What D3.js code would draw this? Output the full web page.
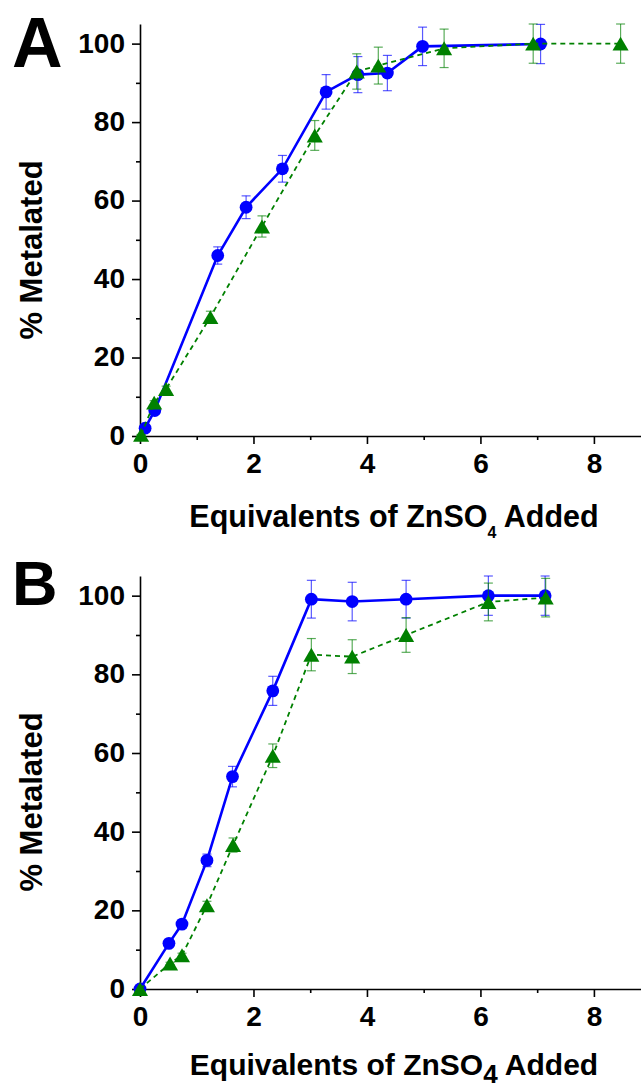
<!DOCTYPE html>
<html>
<head>
<meta charset="utf-8">
<script src="https://cdn.jsdelivr.net/npm/d3@7"></script>
<style>
  body { margin: 0; background: #fff; }
  svg text { font-family: "Liberation Sans", Arial, sans-serif; font-weight: bold; fill: #000; }
</style>
</head>
<body>
<svg id="chart" width="641" height="1089"></svg>
<script>
// Panel A data
var aBlueX = [0.09, 0.26, 1.37, 1.87, 2.51, 3.28, 3.84, 4.36, 4.98, 7.06];
var aBlueY = [2.0, 6.5, 46.0, 58.3, 68.1, 87.7, 92.1, 92.5, 99.3, 99.9];
var aBlueErr = [0.5, 1.0, 2.2, 2.9, 3.4, 4.4, 4.6, 4.5, 4.9, 5.0];

var aGreenX = [0.02, 0.25, 0.46, 1.24, 2.15, 3.08, 3.82, 4.20, 5.36, 6.93, 8.47];
var aGreenY = [0.3, 8.5, 12.0, 30.3, 53.4, 76.6, 92.9, 94.4, 98.8, 100, 100];
var aGreenErr = [0.1, 0.5, 0.7, 1.5, 2.7, 3.8, 4.5, 4.7, 4.9, 5.0, 5.0];

// Panel B data
var bBlueX = [0.0, 0.51, 0.74, 1.18, 1.63, 2.34, 3.02, 3.74, 4.69, 6.14, 7.14];
var bBlueY = [0.0, 11.6, 16.5, 32.7, 54.0, 75.8, 99.1, 98.5, 99.1, 100, 100];
var bBlueErr = [0, 0.6, 0.8, 1.6, 2.6, 3.7, 4.8, 4.9, 4.8, 5.0, 5.0];

var bGreenX = [0.0, 0.53, 0.74, 1.18, 1.64, 2.34, 3.02, 3.74, 4.69, 6.14, 7.15];
var bGreenY = [0.0, 6.5, 8.6, 21.3, 36.6, 59.3, 85.0, 84.5, 90.0, 98.4, 99.5];
var bGreenErr = [0, 0.3, 0.5, 1.0, 1.8, 3.0, 4.1, 4.3, 4.4, 4.8, 4.9];

// Tick values
var xTicks = [0, 2, 4, 6, 8];
var xMinor = [1, 3, 5, 7];
var yTicks = [0, 20, 40, 60, 80, 100];
var yMinor = [10, 30, 50, 70, 90];

var svg = d3.select("#chart");

// triangle centred on its bounding box
var triangle = {
  draw: function(ctx, size) {
    var s = Math.sqrt(size * 4 / Math.sqrt(3));
    var h = s * Math.sqrt(3) / 2;
    ctx.moveTo(0, -h / 2);
    ctx.lineTo(s / 2, h / 2);
    ctx.lineTo(-s / 2, h / 2);
    ctx.closePath();
  }
};

function zip(xs, ys, es) {
  return xs.map(function(x, i) { return { x: x, y: ys[i], e: es[i] }; });
}

function drawPanel(p) {
  var x = d3.scaleLinear().domain([0, 8.83]).range([140, 641]);
  var y = d3.scaleLinear().domain([0, 105]).range([p.bottom, p.top]);

  var g = svg.append("g");

  // axes
  var yAxis = g.append("g")
    .attr("transform", "translate(140,0)")
    .call(d3.axisLeft(y).tickValues(yTicks).tickSize(8).tickSizeOuter(0).tickPadding(7));
  g.append("g")
    .attr("transform", "translate(140,0)")
    .call(d3.axisLeft(y).tickValues(yMinor).tickSize(4).tickFormat(""))
    .select(".domain").remove();

  g.append("g")
    .attr("transform", "translate(0," + p.bottom + ")")
    .call(d3.axisBottom(x).tickValues(xTicks).tickSize(8).tickSizeOuter(0).tickPadding(9));
  g.append("g")
    .attr("transform", "translate(0," + p.bottom + ")")
    .call(d3.axisBottom(x).tickValues(xMinor).tickSize(4).tickFormat(""))
    .select(".domain").remove();

  g.selectAll(".domain, .tick line").attr("stroke", "#000").attr("stroke-width", 1.6);
  g.selectAll(".tick text")
    .style("font-size", "28px")
    .style("font-family", "'Liberation Sans', Arial, sans-serif")
    .style("font-weight", "bold");
  yAxis.selectAll(".tick text").attr("dy", "0.3em");

  function series(data, color, dashed, marker) {
    var s = g.append("g");
    // error bars
    var eb = s.selectAll(".eb").data(data.filter(function(d) { return d.e > 0; }))
      .enter().append("g")
      .attr("stroke", color).attr("stroke-opacity", 0.65).attr("stroke-width", 1.2);
    eb.append("line")
      .attr("x1", function(d) { return x(d.x); }).attr("x2", function(d) { return x(d.x); })
      .attr("y1", function(d) { return y(d.y - d.e); }).attr("y2", function(d) { return y(d.y + d.e); });
    eb.append("line")
      .attr("x1", function(d) { return x(d.x) - 4.5; }).attr("x2", function(d) { return x(d.x) + 4.5; })
      .attr("y1", function(d) { return y(d.y + d.e); }).attr("y2", function(d) { return y(d.y + d.e); });
    eb.append("line")
      .attr("x1", function(d) { return x(d.x) - 4.5; }).attr("x2", function(d) { return x(d.x) + 4.5; })
      .attr("y1", function(d) { return y(d.y - d.e); }).attr("y2", function(d) { return y(d.y - d.e); });

    var line = d3.line().x(function(d) { return x(d.x); }).y(function(d) { return y(d.y); });
    s.append("path")
      .attr("d", line(data))
      .attr("fill", "none")
      .attr("stroke", color)
      .attr("stroke-width", dashed ? 1.8 : 2.6)
      .attr("stroke-dasharray", dashed ? "5,4" : null);

    if (marker === "circle") {
      s.selectAll(".pt").data(data).enter().append("circle")
        .attr("cx", function(d) { return x(d.x); })
        .attr("cy", function(d) { return y(d.y); })
        .attr("r", 6.4)
        .attr("fill", color);
    } else {
      var sym = d3.symbol().type(triangle).size(112);
      s.selectAll(".pt").data(data).enter().append("path")
        .attr("d", sym)
        .attr("transform", function(d) { return "translate(" + x(d.x) + "," + y(d.y) + ")"; })
        .attr("fill", color);
    }
  }

  series(zip(p.blueX, p.blueY, p.blueErr), "#0000ff", false, "circle");
  series(zip(p.greenX, p.greenY, p.greenErr), "#008000", true, "triangle");

  // panel letter
  g.append("text")
    .attr("x", p.letterX).attr("y", p.letterY)
    .style("font-size", p.letterSize + "px")
    .text(p.letter);

  // y title
  g.append("text")
    .attr("transform", "translate(42," + p.yTitleY + ") rotate(-90)")
    .attr("text-anchor", "middle")
    .style("font-size", "31px")
    .text("% Metalated");

  // x title with subscript
  var t = g.append("text")
    .attr("x", 394).attr("y", p.xTitleY)
    .attr("text-anchor", "middle")
    .style("font-size", p.xTitleSize + "px");
  t.append("tspan").text("Equivalents of ZnSO");
  t.append("tspan").attr("dy", p.subDy).style("font-size", p.subSize + "px").text("4");
  t.append("tspan").attr("dy", -p.subDy).text(" Added");
}

drawPanel({
  top: 24, bottom: 436,
  blueX: aBlueX, blueY: aBlueY, blueErr: aBlueErr,
  greenX: aGreenX, greenY: aGreenY, greenErr: aGreenErr,
  letter: "A", letterX: 12, letterY: 67, letterSize: 70,
  yTitleY: 250, xTitleY: 527, xTitleSize: 30.5, subSize: 16, subDy: 11
});

drawPanel({
  top: 576, bottom: 989,
  blueX: bBlueX, blueY: bBlueY, blueErr: bBlueErr,
  greenX: bGreenX, greenY: bGreenY, greenErr: bGreenErr,
  letter: "B", letterX: 12, letterY: 605, letterSize: 63,
  yTitleY: 802, xTitleY: 1075, xTitleSize: 30, subSize: 26, subDy: 8
});
</script>
</body>
</html>
